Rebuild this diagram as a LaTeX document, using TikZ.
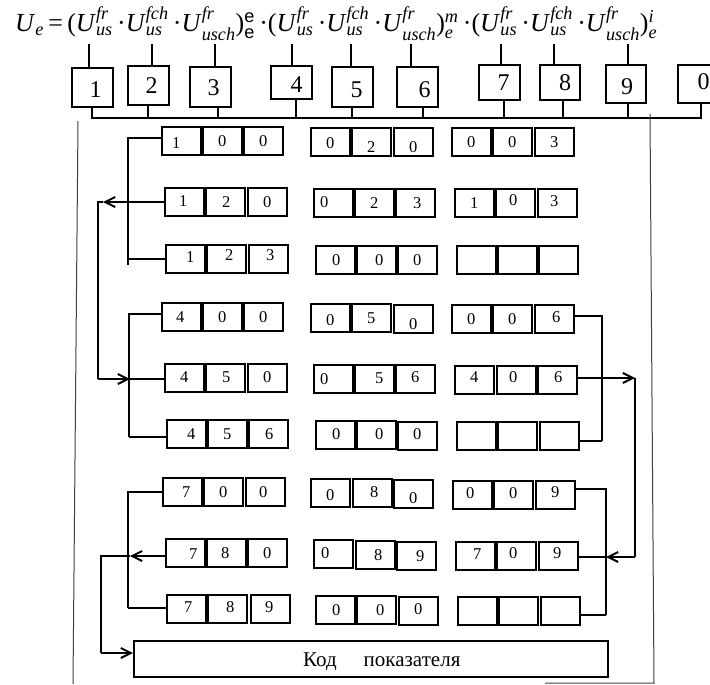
\documentclass[tikz,border=0pt]{standalone}
\usepackage{amsmath}
\usepackage{graphicx}
\usepackage{fontspec}
\setmainfont{Liberation Serif}
\newfontfamily\sansf{Liberation Sans}
\usetikzlibrary{arrows.meta,calc}
\newcommand\Uf[2]{\textit{U}\ensuremath{^{\textit{#1}}_{\textit{#2}}}}
\newcommand\cell[6]{%
  \node[cellbox] (#1) at ({#2+19.25},{#3+14}) {};
  \node[celltxt] at ([shift={(#5,#6)}]#1.center) {#4};}
\newcommand\tbox[8]{%
  \node[bigbox,minimum width={#4-#2},minimum height={#5-#3}] (#1) at ({(#2+#4)/2},{(#3+#5)/2}) {};
  \node[bigtxt] at ([shift={(#7,#8)}]#1.center) {#6};}
\tikzset{
  bigbox/.style={draw,line width=2pt,inner sep=0pt},
  bigtxt/.style={inner sep=0pt,font=\fontsize{24}{24}\selectfont},
  cellbox/.style={draw,line width=2pt,minimum width=38.5pt,minimum height=28pt,inner sep=0pt},
  celltxt/.style={inner sep=0pt,font=\fontsize{16.5}{16.5}\selectfont},
  conn/.style={line width=2.4pt},
  frame/.style={line width=1pt,black!75},
  tip/.style={-{Straight Barb[length=10pt,width=10pt,line width=2pt]}},
}
\begin{document}
\begin{tikzpicture}[x=1pt,y=-1pt]
\useasboundingbox (0,0) rectangle (710,685);
\clip (0,0) rectangle (710,685);
\fill[white] (0,0) rectangle (710,685);

% formula
\node[anchor=base west,inner sep=0pt] (formula) at (15,32) {\resizebox{642pt}{!}{%
\fontsize{26}{26}\selectfont
\textit{U}\ensuremath{_{\textit{e}}}\,=\,(\Uf{fr}{us}\,·\Uf{fch}{us}\,·\Uf{fr}{usch})\ensuremath{^{\text{\sansf e}}_{\text{\sansf e}}}\,·(\Uf{fr}{us}\,·\Uf{fch}{us}\,·\Uf{fr}{usch})\ensuremath{^{\textit{m}}_{\textit{e}}}\,·(\Uf{fr}{us}\,·\Uf{fch}{us}\,·\Uf{fr}{usch})\ensuremath{^{\textit{i}}_{\textit{e}}}}};

% top boxes
\tbox{t1}{72}{68}{113}{107}{1}{3}{2}
\tbox{t2}{128}{66}{169}{105}{2}{3}{0}
\tbox{t3}{190}{67}{231}{107}{3}{3}{1}
\tbox{t4}{271}{66}{312}{99}{4}{5}{2}
\tbox{t5}{332}{67}{373}{107}{5}{4}{3}
\tbox{t6}{397}{67}{438}{107}{6}{7}{3}
\tbox{t7}{479}{65}{520}{100}{7}{4}{0}
\tbox{t8}{540}{65}{580}{100}{8}{5}{0}
\tbox{t9}{606}{65}{646}{103}{9}{1}{3}
\tbox{t0}{678}{65}{719}{103}{0}{5}{-2}

% formula taps
\foreach \n/\x in {1/89,2/152,3/215,4/292,5/351,6/411,7/501,8/554,9/628}{
  \coordinate (f\n) at (\x,44);
  \draw[conn] (f\n) -- (f\n |- t\n.north);
}
% bus
\coordinate (busL) at (91,118);
\coordinate (busR) at (702,118);
\draw[conn] (busL) -- (busR);
\foreach \n/\x in {1/92,2/148,3/218,4/296,5/352,6/423,7/504,8/563,9/628,0/701}{
  \coordinate (b\n) at (\x,118);
  \draw[conn] (b\n |- t\n.south) -- (b\n);
}

% frame lines
\coordinate (fl1) at (78,121); \coordinate (fl2) at (73,684);
\coordinate (fr1) at (650,114); \coordinate (fr2) at (654,683);
\coordinate (fb1) at (545,683);
\draw[frame] (fl1) -- (fl2);
\draw[frame] (fr1) -- (fr2) -- (fb1);

% cells
\cell{r1a}{162}{127}{1}{-5}{2}
\cell{r1b}{203}{127}{0}{0}{0}
\cell{r1c}{244}{127}{0}{0}{0}
\cell{r1d}{311}{128}{0}{0}{1}
\cell{r1e}{352}{128}{2}{0}{5}
\cell{r1f}{394}{128}{0}{0}{5}
\cell{r1g}{452}{128}{0}{0}{0}
\cell{r1h}{493}{128}{0}{0}{0}
\cell{r1i}{535}{128}{3}{0}{0}

\cell{r2a}{165}{188}{1}{-1}{-1}
\cell{r2b}{206}{188}{2}{1}{0}
\cell{r2c}{248}{188}{0}{0}{0}
\cell{r2d}{314}{189}{0}{-9}{-1}
\cell{r2e}{355}{189}{2}{0}{0}
\cell{r2f}{396}{189}{3}{2}{0}
\cell{r2g}{455}{189}{1}{0}{0}
\cell{r2h}{496}{189}{0}{-2}{-3}
\cell{r2i}{538}{189}{3}{-3}{-2}

\cell{r3a}{166}{245}{1}{5}{-2}
\cell{r3b}{207}{245}{2}{3}{-4}
\cell{r3c}{249}{245}{3}{2}{-4}
\cell{r3d}{316}{246}{0}{1}{0}
\cell{r3e}{357}{246}{0}{3}{0}
\cell{r3f}{398}{246}{0}{0}{0}
\cell{r3g}{457}{246}{}{0}{0}
\cell{r3h}{498}{246}{}{0}{0}
\cell{r3i}{539}{246}{}{0}{0}

\cell{r4a}{162}{303}{4}{-1}{0}
\cell{r4b}{203}{303}{0}{0}{0}
\cell{r4c}{244}{303}{0}{0}{0}
\cell{r4d}{311}{304}{0}{0}{2}
\cell{r4e}{352}{304}{5}{0}{0}
\cell{r4f}{394}{305}{0}{0}{5}
\cell{r4g}{452}{305}{0}{0}{0}
\cell{r4h}{493}{305}{0}{0}{0}
\cell{r4i}{535}{305}{6}{2}{-2}

\cell{r5a}{165}{364}{4}{0}{-1}
\cell{r5b}{206}{364}{5}{1}{-1}
\cell{r5c}{248}{364}{0}{0}{-1}
\cell{r5d}{314}{365}{0}{-9}{0}
\cell{r5e}{355}{365}{5}{5}{-1}
\cell{r5f}{396}{365}{6}{0}{-2}
\cell{r5g}{455}{366}{4}{0}{-3}
\cell{r5h}{497}{366}{0}{-3}{-3}
\cell{r5i}{538}{366}{6}{1}{-3}

\cell{r6a}{167}{420}{4}{5}{0}
\cell{r6b}{208}{420}{5}{0}{0}
\cell{r6c}{249}{420}{6}{1}{0}
\cell{r6d}{316}{421}{0}{1}{-1}
\cell{r6e}{357}{421}{0}{3}{-1}
\cell{r6f}{398}{422}{0}{0}{-2}
\cell{r6g}{457}{422}{}{0}{0}
\cell{r6h}{498}{422}{}{0}{0}
\cell{r6i}{540}{422}{}{0}{0}

\cell{r7a}{163}{478}{7}{4}{0}
\cell{r7b}{204}{478}{0}{0}{0}
\cell{r7c}{246}{478}{0}{-2}{0}
\cell{r7d}{311}{479}{0}{0}{2}
\cell{r7e}{353}{479}{8}{2}{-1}
\cell{r7f}{394}{480}{0}{0}{4}
\cell{r7g}{453}{481}{0}{-2}{-2}
\cell{r7h}{494}{481}{0}{0}{-2}
\cell{r7i}{536}{481}{9}{0}{-3}

\cell{r8a}{166}{539}{7}{8}{1}
\cell{r8b}{207}{539}{8}{-1}{0}
\cell{r8c}{248}{539}{0}{0}{0}
\cell{r8d}{314}{540}{0}{-8}{-1}
\cell{r8e}{356}{541}{8}{3}{0}
\cell{r8f}{397}{542}{9}{4}{0}
\cell{r8g}{456}{542}{7}{2}{-2}
\cell{r8h}{497}{542}{0}{-3}{-3}
\cell{r8i}{539}{542}{9}{-1}{-3}

\cell{r9a}{167}{595}{7}{2}{-2}
\cell{r9b}{208}{595}{8}{3}{-2}
\cell{r9c}{251}{595}{9}{-1}{-2}
\cell{r9d}{316}{596}{0}{1}{0}
\cell{r9e}{357}{596}{0}{4}{0}
\cell{r9f}{399}{597}{0}{0}{-2}
\cell{r9g}{458}{597}{}{0}{0}
\cell{r9h}{499}{597}{}{0}{0}
\cell{r9i}{541}{597}{}{0}{0}

% code box
\node[draw,line width=2pt,minimum width=474pt,minimum height=36pt,inner sep=0pt] (code) at (371,659) {};
\node[anchor=base west,inner sep=0pt,font=\fontsize{21}{21}\selectfont] (codetxt) at (303,666) {Код\hspace{27pt}показателя};

% left bracket rows 1-3
\coordinate (BA3) at (128,265);
\draw[conn] ([yshift=3pt]r1a.west) -| (BA3);
\draw[conn] (r3a.west) -- (r3a.west -| BA3);
% row 2 out, down to row 5
\coordinate (A2) at (103,202);
\coordinate (L1) at (98,202);
\coordinate (L2) at (98,379);
\coordinate (A5) at (130,379);
\draw[conn,tip] (r2a.west) -- (A2);
\draw[conn] (A2) -- (L1) -- (L2);
\draw[conn,tip] (L2) -- (A5);
\draw[conn] (A5) -- (r5a.west |- A5);
% left bracket rows 4-6
\coordinate (BB6) at (129,437);
\draw[conn] ([yshift=3pt]r4a.west) -| (BB6);
\draw[conn] (BB6) -- ([yshift=-3pt]r6a.west);
% right bracket rows 4-6
\coordinate (C6) at (602,441);
\draw[conn] ([yshift=3pt]r4i.east) -| (C6);
\draw[conn] (C6) -- ([yshift=-5pt]r6i.east);
\coordinate (R5) at (635,378);
\coordinate (R8) at (635,557);
\coordinate (D8) at (606,557);
\draw[conn,tip] ([yshift=2pt]r5i.east) -- (R5);
\draw[conn] (R5) -- (R8);
\draw[conn,tip] (R8) -- (D8);
\draw[conn] (D8) -- (r8i.east |- D8);
% right bracket rows 7-9
\coordinate (D9) at (606,615);
\draw[conn] ([yshift=6pt]r7i.east) -| (D9);
\draw[conn] (D9) -- ([yshift=-4pt]r9i.east);
% left bracket rows 7-9
\coordinate (E9) at (128,608);
\draw[conn] (r7a.west) -| (E9);
\draw[conn] (E9) -- (r9a.west |- E9);
\coordinate (E8) at (130,556);
\coordinate (M8) at (101,556);
\coordinate (M9) at (101,653);
\draw[conn,tip] (r8a.west |- E8) -- (E8);
\draw[conn] (E8) -- (M8) -- (M9);
\draw[conn,tip] (M9) -- (code.west |- M9);
\end{tikzpicture}
\end{document}
